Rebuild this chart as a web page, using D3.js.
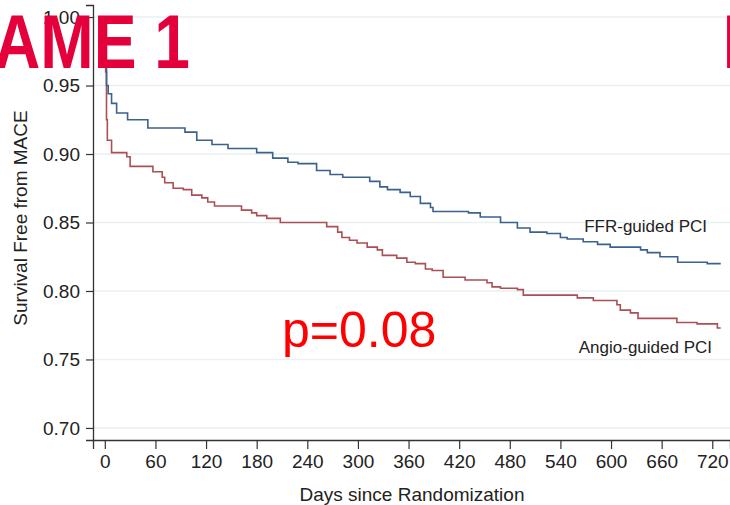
<!DOCTYPE html>
<html lang="en">
<head>
  <meta charset="utf-8">
  <title>FAME 1 survival free from MACE</title>
  <script src="https://d3js.org/d3.v7.min.js"></script>
  <style>
    body { margin: 0; background: #fff; }
    text { font-family: "Liberation Sans", Arial, sans-serif; }
  </style>
</head>
<body>
  <div id="chart"></div>
  <script>
    // width and height
    var w = 730;
    var h = 505;

    // Kaplan-Meier step points
    var ffrDays = [0, 1, 2, 4, 8, 14, 27, 51, 95, 109, 127, 146, 180, 199, 217, 229, 251, 267, 282, 314, 326, 335, 350, 362, 374, 386, 389, 431, 445, 469, 489, 504, 524, 540, 548, 567, 584, 599, 635, 643, 658, 679, 714, 730];
    var ffrSurv = [1.000, 0.965, 0.950, 0.944, 0.937, 0.930, 0.925, 0.919, 0.916, 0.910, 0.907, 0.904, 0.901, 0.897, 0.894, 0.893, 0.888, 0.885, 0.883, 0.880, 0.876, 0.874, 0.872, 0.869, 0.864, 0.861, 0.858, 0.857, 0.854, 0.850, 0.846, 0.843, 0.842, 0.839, 0.838, 0.836, 0.834, 0.832, 0.830, 0.828, 0.825, 0.821, 0.820, 0.820];

    var angioDays = [0, 1, 2, 3, 8, 26, 30, 57, 68, 71, 81, 93, 103, 115, 122, 130, 162, 174, 180, 192, 208, 263, 276, 281, 290, 299, 311, 323, 329, 346, 358, 368, 380, 388, 401, 427, 453, 459, 469, 489, 496, 560, 579, 607, 611, 623, 632, 678, 702, 726, 730];
    var angioSurv = [1.000, 0.960, 0.925, 0.910, 0.901, 0.898, 0.891, 0.887, 0.883, 0.879, 0.875, 0.874, 0.870, 0.868, 0.865, 0.862, 0.859, 0.857, 0.855, 0.853, 0.850, 0.847, 0.843, 0.839, 0.837, 0.835, 0.832, 0.830, 0.826, 0.824, 0.821, 0.820, 0.816, 0.815, 0.810, 0.808, 0.806, 0.803, 0.802, 0.801, 0.797, 0.795, 0.793, 0.790, 0.786, 0.784, 0.780, 0.777, 0.776, 0.773, 0.773];

    var yTicks = [0.70, 0.75, 0.80, 0.85, 0.90, 0.95, 1.00];
    var xTicks = [0, 60, 120, 180, 240, 300, 360, 420, 480, 540, 600, 660, 720];

    var seriesNames = ["FFR-guided PCI", "Angio-guided PCI"];
    var pValue = "p=0.08";
    var studyLabel = "AME 1";

    var svg = d3.select("#chart")
      .append("svg")
      .attr("width", w)
      .attr("height", h);

    // scales (plot region runs a bit past the first and last tick)
    var x = d3.scaleLinear().domain([-14, 741]).range([93, 730]);
    var y = d3.scaleLinear().domain([0.6912, 1.0088]).range([440, 5]);

    // gridlines
    svg.append("g")
      .selectAll("line")
      .data(yTicks)
      .enter()
      .append("line")
      .attr("x1", 93)
      .attr("x2", w)
      .attr("y1", d => y(d))
      .attr("y2", d => y(d))
      .style("stroke", "#e9f1f2")
      .style("stroke-width", 1.5);

    // y axis
    var yAxis = svg.append("g")
      .attr("transform", "translate(93,0)")
      .call(d3.axisLeft(y).tickValues(yTicks).tickFormat(d3.format(".2f")).tickSize(7).tickPadding(6));

    // x axis
    var xAxis = svg.append("g")
      .attr("transform", "translate(0,440)")
      .call(d3.axisBottom(x).tickValues(xTicks).tickSize(9).tickPadding(6));

    [yAxis, xAxis].forEach(function (g) {
      g.select(".domain").style("stroke", "#333").style("stroke-width", 1.3);
      g.selectAll(".tick line").style("stroke", "#333").style("stroke-width", 1.2);
      g.selectAll(".tick text")
        .style("font-size", "19px")
        .style("fill", "#222")
        .style("font-family", "'Liberation Sans', Arial, sans-serif");
    });

    // axis titles
    svg.append("text")
      .attr("x", 412)
      .attr("y", 501)
      .attr("text-anchor", "middle")
      .style("font-size", "19px")
      .style("fill", "#222")
      .text("Days since Randomization");

    svg.append("text")
      .attr("transform", "translate(27,218) rotate(-90)")
      .attr("text-anchor", "middle")
      .style("font-size", "19px")
      .style("fill", "#222")
      .text("Survival Free from MACE");

    // step curves
    var line = d3.line()
      .x(d => x(d[0]))
      .y(d => y(d[1]))
      .curve(d3.curveStepAfter);

    var angio = angioDays.map((d, i) => [d, angioSurv[i]]);
    var ffr = ffrDays.map((d, i) => [d, ffrSurv[i]]);

    svg.append("path")
      .datum(angio)
      .attr("d", line)
      .style("fill", "none")
      .style("stroke", "#ac4f55")
      .style("stroke-width", 1.6);

    svg.append("path")
      .datum(ffr)
      .attr("d", line)
      .style("fill", "none")
      .style("stroke", "#3a628e")
      .style("stroke-width", 1.6);

    // curve labels
    svg.append("text")
      .attr("x", 707)
      .attr("y", 232)
      .attr("text-anchor", "end")
      .style("font-size", "17px")
      .style("fill", "#222")
      .text(seriesNames[0]);

    svg.append("text")
      .attr("x", 712)
      .attr("y", 353)
      .attr("text-anchor", "end")
      .style("font-size", "17px")
      .style("fill", "#222")
      .text(seriesNames[1]);

    // p value
    svg.append("text")
      .attr("x", 282)
      .attr("y", 347)
      .style("font-size", "50px")
      .style("fill", "#ff0000")
      .text(pValue);

    // overlaid title, cut at both edges
    svg.append("text")
      .attr("x", -6)
      .attr("y", 68)
      .attr("textLength", 196)
      .attr("lengthAdjust", "spacingAndGlyphs")
      .style("font-size", "76px")
      .style("font-weight", "bold")
      .style("fill", "#e4003b")
      .text(studyLabel);

    svg.append("text")
      .attr("x", 722)
      .attr("y", 68)
      .style("font-size", "76px")
      .style("font-weight", "bold")
      .style("fill", "#e4003b")
      .text("F");
  </script>
</body>
</html>
